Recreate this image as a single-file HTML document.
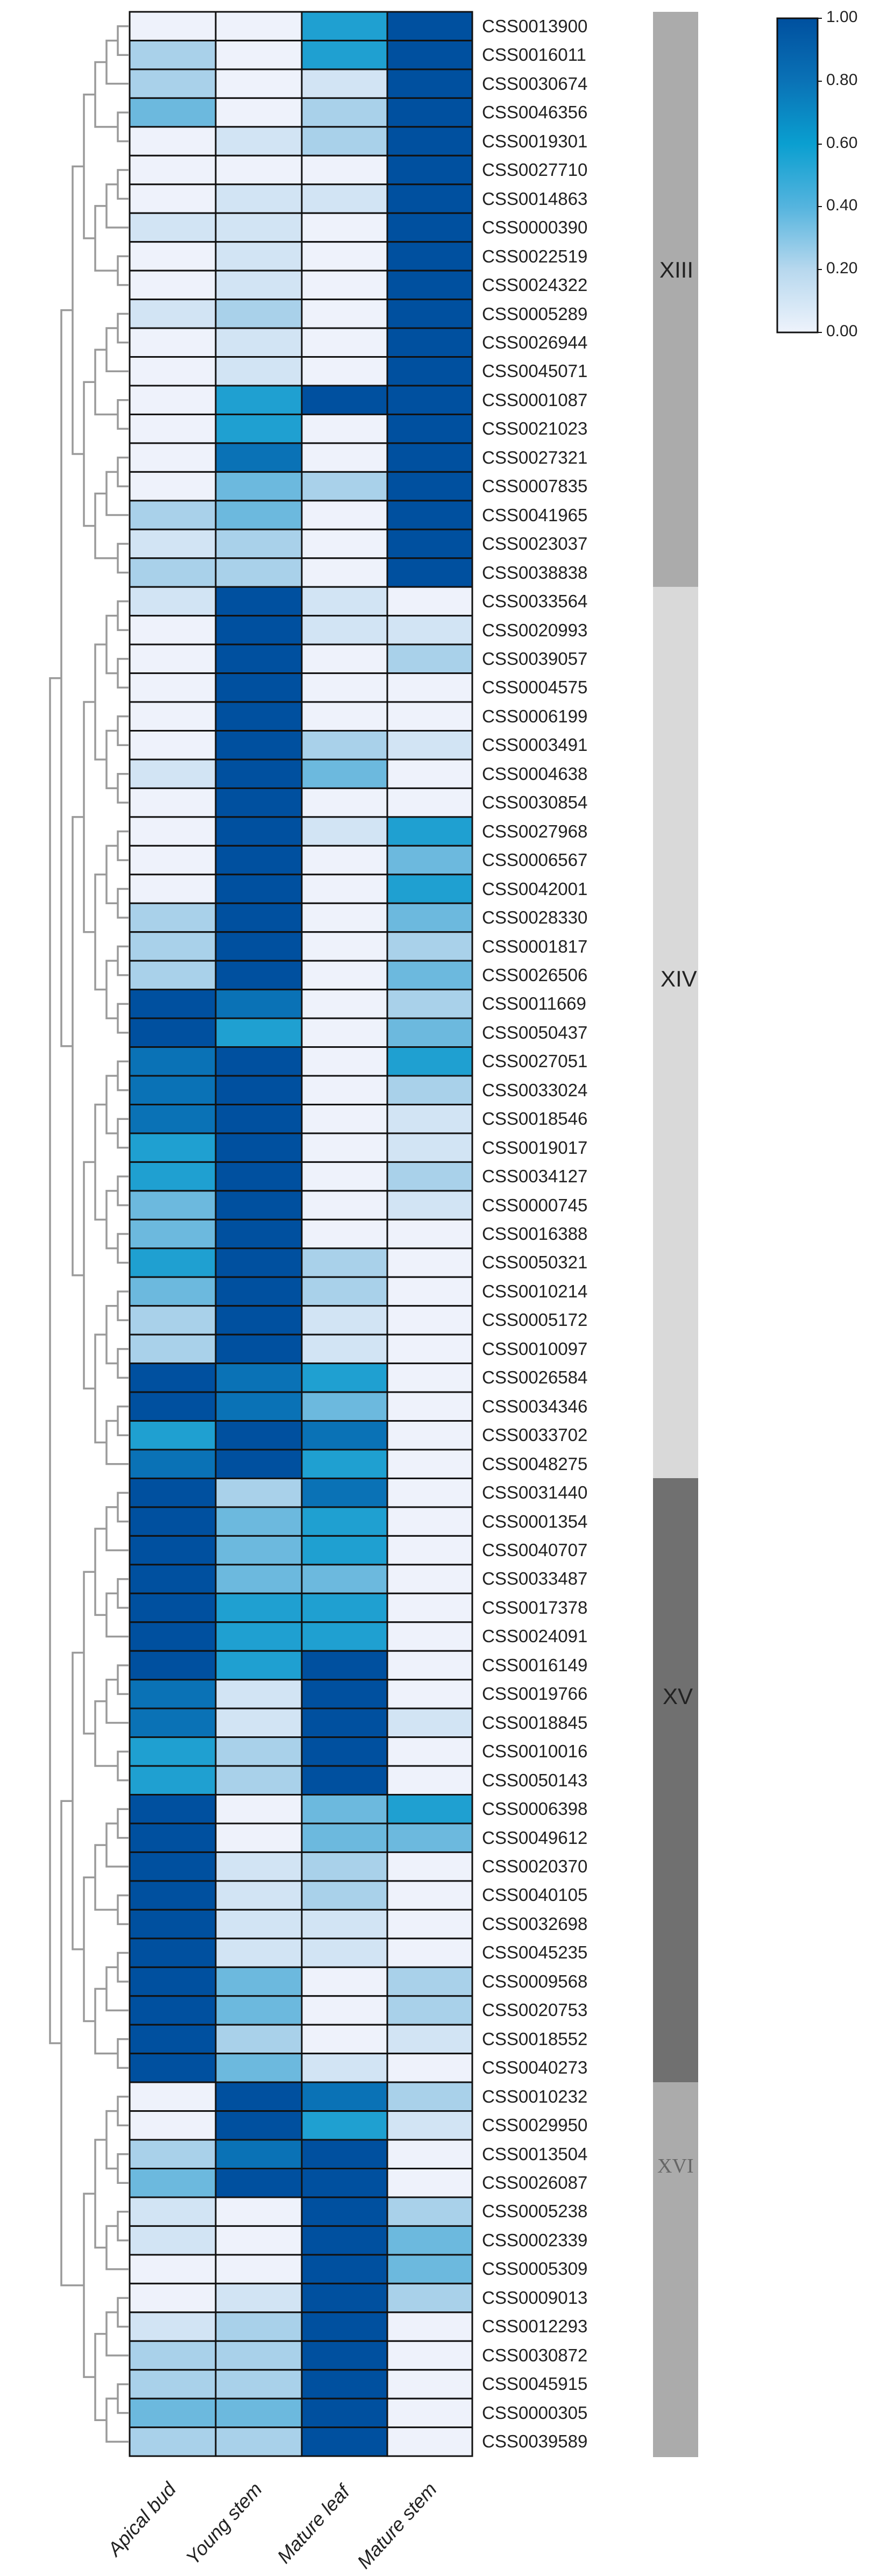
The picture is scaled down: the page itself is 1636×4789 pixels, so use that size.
<!DOCTYPE html>
<html><head><meta charset="utf-8"><style>
html,body{margin:0;padding:0;background:#fff}
body{width:1636px;height:4789px;position:relative;overflow:hidden;font-family:"Liberation Sans",Arial,sans-serif}
#labels{position:absolute;left:896px;top:22px}
#labels div{height:53.46px;line-height:53.46px;font-size:33px;color:#222;transform:scaleX(1.0);transform-origin:left center;white-space:nowrap}
.grp{position:absolute;font-size:42px;color:#222}
.tick{position:absolute;left:1536px;font-size:30px;color:#222}
.col{position:absolute;font-size:36px;font-style:italic;color:#222;white-space:nowrap;transform-origin:right center;transform:rotate(-48deg)}
</style></head><body>
<svg id="svg" width="1636" height="4789" style="position:absolute;left:0;top:0">
<rect x="1214" y="22" width="84" height="1069" fill="#ababab"/>
<rect x="1214" y="1091" width="84" height="1657" fill="#d9d9d9"/>
<rect x="1214" y="2748" width="84" height="1123" fill="#707070"/>
<rect x="1214" y="3871" width="84" height="697" fill="#ababab"/>
<defs><linearGradient id="g" x1="0" y1="0" x2="0" y2="1">
<stop offset="0" stop-color="#00509f"/><stop offset="0.2" stop-color="#0a72b6"/><stop offset="0.4" stop-color="#0a9fd0"/><stop offset="0.6" stop-color="#55b4de"/><stop offset="0.8" stop-color="#b7d8ee"/><stop offset="1" stop-color="#eef3fc"/></linearGradient></defs>
<rect x="1445" y="34" width="75" height="584" fill="url(#g)" stroke="#111" stroke-width="3"/>
<g stroke="#111" stroke-width="2">
<line x1="1520" y1="34" x2="1528" y2="34"/><line x1="1520" y1="151" x2="1528" y2="151"/><line x1="1520" y1="268" x2="1528" y2="268"/><line x1="1520" y1="384" x2="1528" y2="384"/><line x1="1520" y1="501" x2="1528" y2="501"/><line x1="1520" y1="618" x2="1528" y2="618"/></g>
<g id="heat"></g><g id="tree" stroke="#9a9a9a" stroke-width="3.5" fill="none"></g>
</svg>
<div class="tick" style="top:15px">1.00</div>
<div class="tick" style="top:132px">0.80</div>
<div class="tick" style="top:249px">0.60</div>
<div class="tick" style="top:365px">0.40</div>
<div class="tick" style="top:482px">0.20</div>
<div class="tick" style="top:599px">0.00</div>
<div class="grp" style="left:1226px;top:478px">XIII</div>
<div class="grp" style="left:1228px;top:1796px">XIV</div>
<div class="grp" style="left:1232px;top:3130px">XV</div>
<div class="grp" style="left:1222px;top:4005px;font-family:'Liberation Serif',serif;color:#666;font-size:38px">XVI</div>
<div class="col" style="right:1316px;top:4600px">Apical bud</div>
<div class="col" style="right:1156px;top:4600px">Young stem</div>
<div class="col" style="right:993px;top:4605px">Mature leaf</div>
<div class="col" style="right:831px;top:4600px">Mature stem</div>
<div id="labels">
<div>CSS0013900</div><div>CSS0016011</div><div>CSS0030674</div><div>CSS0046356</div><div>CSS0019301</div><div>CSS0027710</div><div>CSS0014863</div><div>CSS0000390</div><div>CSS0022519</div><div>CSS0024322</div><div>CSS0005289</div><div>CSS0026944</div><div>CSS0045071</div><div>CSS0001087</div><div>CSS0021023</div><div>CSS0027321</div><div>CSS0007835</div><div>CSS0041965</div><div>CSS0023037</div><div>CSS0038838</div>
<div>CSS0033564</div><div>CSS0020993</div><div>CSS0039057</div><div>CSS0004575</div><div>CSS0006199</div><div>CSS0003491</div><div>CSS0004638</div><div>CSS0030854</div><div>CSS0027968</div><div>CSS0006567</div><div>CSS0042001</div><div>CSS0028330</div><div>CSS0001817</div><div>CSS0026506</div><div>CSS0011669</div><div>CSS0050437</div><div>CSS0027051</div><div>CSS0033024</div><div>CSS0018546</div><div>CSS0019017</div><div>CSS0034127</div><div>CSS0000745</div><div>CSS0016388</div><div>CSS0050321</div><div>CSS0010214</div><div>CSS0005172</div><div>CSS0010097</div><div>CSS0026584</div><div>CSS0034346</div><div>CSS0033702</div><div>CSS0048275</div>
<div>CSS0031440</div><div>CSS0001354</div><div>CSS0040707</div><div>CSS0033487</div><div>CSS0017378</div><div>CSS0024091</div><div>CSS0016149</div><div>CSS0019766</div><div>CSS0018845</div><div>CSS0010016</div><div>CSS0050143</div><div>CSS0006398</div><div>CSS0049612</div><div>CSS0020370</div><div>CSS0040105</div><div>CSS0032698</div><div>CSS0045235</div><div>CSS0009568</div><div>CSS0020753</div><div>CSS0018552</div><div>CSS0040273</div>
<div>CSS0010232</div><div>CSS0029950</div><div>CSS0013504</div><div>CSS0026087</div><div>CSS0005238</div><div>CSS0002339</div><div>CSS0005309</div><div>CSS0009013</div><div>CSS0012293</div><div>CSS0030872</div><div>CSS0045915</div><div>CSS0000305</div><div>CSS0039589</div>
</div>
<script>
var d="0046 2046 2016 3026 0126 0006 0116 1106 0106 0106 1206 0106 0106 0466 0406 0506 0326 2306 1206 2206 "+
"1610 0611 0602 0600 0600 0621 1630 0600 0614 0603 0604 2603 2602 2603 6502 6403 5604 5602 5601 4601 4602 3601 3600 4620 3620 2610 2610 6540 6530 4650 5640 "+
"6250 6340 6340 6330 6440 6440 6460 5160 5161 4260 4260 6034 6033 6120 6120 6110 6110 6302 6302 6201 6310 "+
"0652 0641 2560 3660 1062 1063 0063 0162 1260 2260 2260 3360 2260";
var rows=d.trim().split(/\s+/);
var C=["#eef2fb","#d2e4f4","#a9d1ea","#6cb9de","#1fa0d1","#0a72b6","#00509f"];
var xs=[241,401,561,720,878],y0=22,h=53.46,s="";
rows.forEach(function(r,i){for(var j=0;j<4;j++){s+='<rect x="'+xs[j]+'" y="'+(y0+i*h)+'" width="'+(xs[j+1]-xs[j])+'" height="'+h+'" fill="'+C[+r[j]]+'" stroke="#111" stroke-width="3"/>';}});
document.getElementById('heat').innerHTML=s;
var t="";
function build(a,b){
 if(a==b) return {y:y0+(a+0.5)*h,d:0};
 var m=Math.floor((a+b)/2);var L=build(a,m),R=build(m+1,b);return join(L,R);}
function xof(dep){return 240-dep*21;}
function join(L,R){var dep=Math.max(L.d,R.d)+1;var x=xof(dep);
 t+='<path d="M'+xof(L.d)+' '+L.y+'H'+x+'V'+R.y+'H'+xof(R.d)+'"/>';
 return {y:(L.y+R.y)/2,d:dep};}
var g1=build(0,19),g2=build(20,50),g3=build(51,71),g4=build(72,84);
var a=join(g3,g4);var b=join(g1,g2);
a.d=Math.max(a.d,b.d);b.d=a.d;var top=join(b,a);
document.getElementById('tree').innerHTML=t;
</script>
</body></html>
